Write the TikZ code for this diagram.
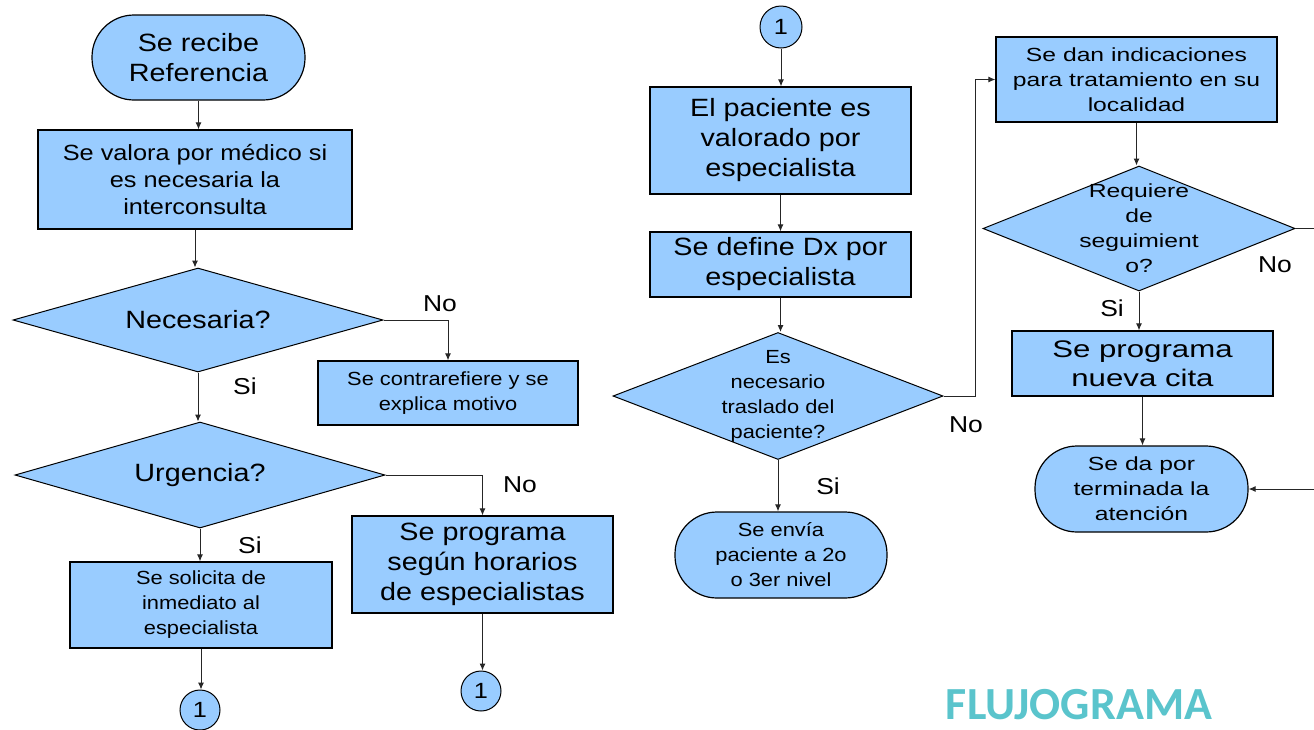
\documentclass[tikz,border=0pt]{standalone}
\usepackage{fontspec}
\setmainfont{Liberation Sans}
\newfontfamily\fa[FakeStretch=1.15]{Liberation Sans}
\newfontfamily\fb[FakeStretch=1.3]{Liberation Sans}
\newfontfamily\fc{Carlito}
\usetikzlibrary{shapes.geometric,arrows.meta}
\definecolor{boxblue}{RGB}{153,204,255}
\definecolor{titleteal}{RGB}{90,196,204}
\tikzset{
  box/.style={draw=black, line width=1.2pt, fill=boxblue, align=center, inner sep=0pt},
  term/.style={box},
  dec/.style={diamond, draw=black, line width=1pt, fill=boxblue, inner sep=0pt},
  conn/.style={circle, draw=black, line width=1pt, fill=boxblue, inner sep=0pt, font=\fa\fontsize{22}{26}\selectfont},
  arr/.style={draw=black!85, line width=1pt, -{Latex[length=7pt,width=6pt]}},
  lbl/.style={font=\fa\fontsize{23}{27}\selectfont},
  fbig/.style={font=\fa\fontsize{25}{30}\selectfont},
  fmid/.style={font=\fa\fontsize{22}{27}\selectfont},
  fsmall/.style={font=\fa\fontsize{19}{25}\selectfont},
  fright/.style={font=\fb\fontsize{19}{25}\selectfont},
  frightbig/.style={font=\fb\fontsize{24}{29}\selectfont}
}
\begin{document}
\begin{tikzpicture}[x=1pt,y=-1pt]
\useasboundingbox (0,0) rectangle (1314,729);
% left column
\node[term, rounded corners=42pt, minimum width=213pt, minimum height=85pt, fbig] (start) at (198.5,57.5) {Se recibe\\Referencia};
\node[box, minimum width=314pt, minimum height=99pt, fmid] (valora) at (195,179.5) {Se valora por médico si\\es necesaria la\\interconsulta};
\node[dec, minimum width=370pt, minimum height=104pt, label={[fbig]center:Necesaria?}] (nec) at (198,320) {};
\node[box, minimum width=260pt, minimum height=64pt, fsmall] (contra) at (448,393) {Se contrarefiere y se\\explica motivo};
\node[dec, minimum width=370pt, minimum height=106pt, label={[fbig]center:Urgencia?}] (urg) at (200,475) {};
\node[box, minimum width=261pt, minimum height=97pt, fbig] (prog) at (482.5,564.5) {Se programa\\según horarios\\de especialistas};
\node[box, minimum width=262pt, minimum height=86pt, fsmall] (soli) at (201,605) {Se solicita de\\inmediato al\\especialista};
\node[conn, minimum size=40pt] (c1) at (200,710) {1};
\node[conn, minimum size=40pt] (c2) at (481,691) {1};
% middle column
\node[conn, minimum size=42pt] (c3) at (781,27) {1};
\node[box, minimum width=261pt, minimum height=107pt, fbig] (pac) at (780.5,140.5) {El paciente es\\valorado por\\especialista};
\node[box, minimum width=261pt, minimum height=65pt, fbig] (dx) at (780.5,264.5) {Se define Dx por\\especialista};
\node[dec, minimum width=330pt, minimum height=127pt, label={[fsmall, align=center]center:Es\\necesario\\traslado del\\paciente?}] (tras) at (778,396) {};
\node[term, rounded corners=42pt, minimum width=212pt, minimum height=86pt, fsmall] (envia) at (781,555) {Se envía\\paciente a 2o\\o 3er nivel};
% right column
\node[box, minimum width=281pt, minimum height=85pt, fright] (indic) at (1136.5,79.5) {Se dan indicaciones\\para tratamiento en su\\localidad};
\node[dec, minimum width=312pt, minimum height=125pt, label={[fright, align=center]center:Requiere\\de\\seguimient\\o?}] (req) at (1139,228.5) {};
\node[box, minimum width=261pt, minimum height=65pt, frightbig] (nueva) at (1142.5,363.5) {Se programa\\nueva cita};
\node[term, rounded corners=42pt, minimum width=213pt, minimum height=86pt, fright] (fin) at (1141.5,489) {Se da por\\terminada la\\atención};
\coordinate (rr) at (1340,228.5);
% title
\node[font=\fc\bfseries\fontsize{46}{48}\selectfont, text=titleteal, inner sep=0pt, anchor=base] (title) at (1079,719) {FLUJOGRAMA};
% connectors
\draw[arr] (start.south) -- (start.south |- valora.north);
\draw[arr] (valora.south) -- (valora.south |- nec.north);
\draw[arr] (nec.east) -| (contra.north);
\draw[arr] (nec.south) -- (nec.south |- urg.north);
\draw[arr] (urg.east) -| (prog.north);
\draw[arr] (urg.south) -- (urg.south |- soli.north);
\draw[arr] (soli.south) -- (soli.south |- c1.north);
\draw[arr] (prog.south) -- (prog.south |- c2.north);
\draw[arr] (c3.south) -- (c3.south |- pac.north);
\draw[arr] (pac.south) -- (pac.south |- dx.north);
\draw[arr] (dx.south) -- (dx.south |- tras.north);
\draw[arr] (tras.south) -- (tras.south |- envia.north);
\draw[arr] (tras.east) -- ++(32,0) |- (indic.west);
\draw[arr] (indic.south) -- (indic.south |- req.north);
\draw[arr] (req.south) -- (req.south |- nueva.north);
\draw[arr] (nueva.south) -- (nueva.south |- fin.north);
\draw[arr] (req.east) -- (rr) |- (fin.east);
% labels
\node[lbl] (l1) at (440,304) {No};
\node[lbl] (l2) at (245,386) {Si};
\node[lbl] (l3) at (520,485) {No};
\node[lbl] (l4) at (250,545) {Si};
\node[lbl] (l5) at (966,425) {No};
\node[lbl] (l6) at (828,486) {Si};
\node[lbl] (l7) at (1275,265) {No};
\node[lbl] (l8) at (1112,308) {Si};
\end{tikzpicture}
\end{document}
